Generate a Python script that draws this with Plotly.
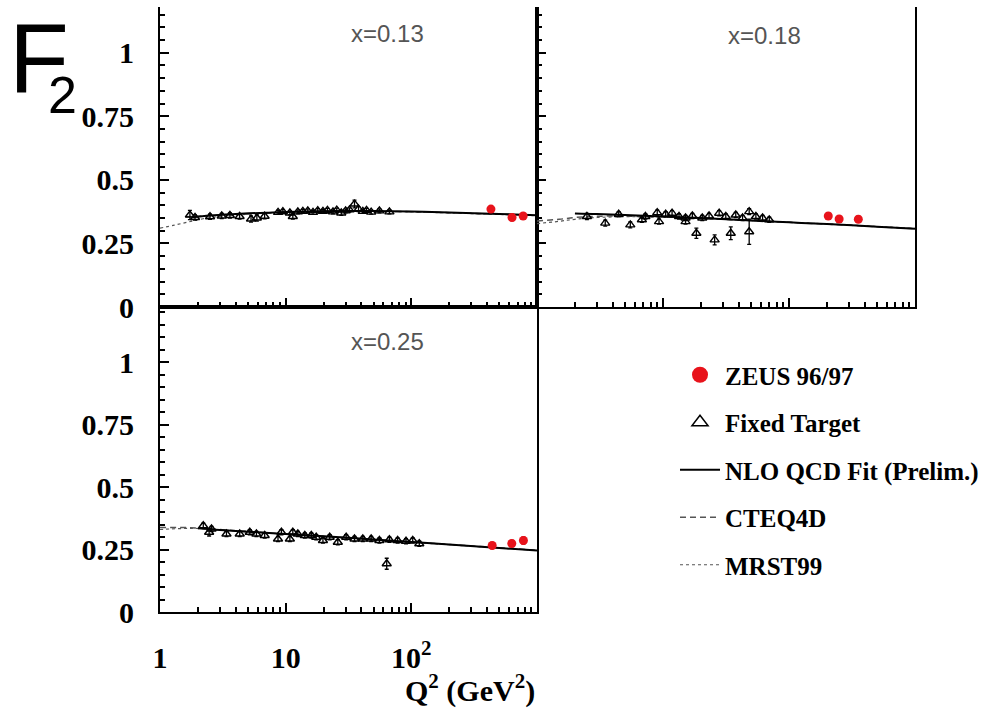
import plotly.graph_objects as go

W, H = 998, 708

# ---------------- data ----------------
# x = 0.13
q2_ft_013 = [1.73, 1.9, 2.5, 3.1, 3.6, 4.3, 5.3, 5.9, 6.8, 8.7, 9.5, 10.8, 11.4, 12.5, 13.7, 15.0,
             16.5, 18.0, 19.8, 21.5, 23.8, 25.5, 27.7, 30.0, 32.2, 35.3, 38.0, 41.1, 44.0, 47.9, 55.7, 66.9]
f2_ft_013 = [0.362, 0.352, 0.355, 0.358, 0.360, 0.356, 0.346, 0.350, 0.357, 0.372, 0.375, 0.370, 0.356,
             0.374, 0.376, 0.378, 0.372, 0.379, 0.376, 0.380, 0.374, 0.381, 0.370, 0.378, 0.382, 0.405,
             0.385, 0.376, 0.380, 0.373, 0.378, 0.374]
err_ft_013 = [0.018, 0.010, 0.010, 0.010, 0.010, 0.010, 0.012, 0.012, 0.010, 0.008, 0.008, 0.008, 0.010,
              0.008, 0.008, 0.008, 0.008, 0.008, 0.008, 0.008, 0.008, 0.008, 0.010, 0.008, 0.008, 0.015,
              0.010, 0.008, 0.008, 0.008, 0.008, 0.008]
q2_zeus_013 = [430, 633, 776]
f2_zeus_013 = [0.385, 0.352, 0.358]
err_zeus_013 = [0.012, 0.012, 0.012]

q2_nlo_013 = [1.8, 2.5, 4, 7, 10, 20, 50, 100, 200, 500, 1000]
f2_nlo_013 = [0.352, 0.360, 0.366, 0.371, 0.374, 0.377, 0.378, 0.376, 0.372, 0.366, 0.361]
q2_cteq_013 = [1.6, 2, 3, 5, 10, 20, 50, 100, 200, 500, 1000]
f2_cteq_013 = [0.355, 0.357, 0.361, 0.366, 0.372, 0.376, 0.377, 0.375, 0.371, 0.365, 0.360]
q2_mrst_013 = [1, 1.3, 1.7, 2.2, 3, 5, 10, 20, 50, 100, 200, 500, 1000]
f2_mrst_013 = [0.310, 0.322, 0.335, 0.347, 0.356, 0.365, 0.373, 0.377, 0.377, 0.374, 0.370, 0.364, 0.359]

# x = 0.18
q2_ft_018 = [2.49, 3.48, 4.45, 5.5, 6.8, 7.25, 9.0, 9.3, 10.5, 11.8, 13.4, 15.1, 15.1, 17.1, 18.4,
             20.5, 23.2, 25.7, 27.9, 31.5, 34.5, 37.8, 42.8, 48.3, 48.3, 54.6, 61.7, 69.7]
f2_ft_018 = [0.356, 0.330, 0.365, 0.323, 0.343, 0.356, 0.371, 0.336, 0.365, 0.369, 0.356, 0.350, 0.336,
             0.358, 0.290, 0.350, 0.358, 0.264, 0.369, 0.356, 0.290, 0.362, 0.350, 0.375, 0.296, 0.356,
             0.350, 0.343]
err_ft_018 = [0.012, 0.012, 0.010, 0.012, 0.010, 0.010, 0.010, 0.010, 0.010, 0.010, 0.010, 0.010, 0.010,
              0.010, 0.020, 0.010, 0.010, 0.020, 0.010, 0.010, 0.025, 0.010, 0.010, 0.012, 0.050, 0.010,
              0.010, 0.010]
q2_zeus_018 = [205, 250, 355]
f2_zeus_018 = [0.358, 0.346, 0.345]
err_zeus_018 = [0.012, 0.012, 0.012]

q2_nlo_018 = [2, 3, 5, 10, 20, 50, 100, 200, 500, 1000]
f2_nlo_018 = [0.368, 0.366, 0.362, 0.356, 0.350, 0.340, 0.333, 0.326, 0.316, 0.308]
q2_cteq_018 = [1, 1.5, 2, 3, 5, 10, 20, 50, 100, 200, 500, 1000]
f2_cteq_018 = [0.338, 0.345, 0.352, 0.357, 0.357, 0.354, 0.349, 0.340, 0.333, 0.326, 0.316, 0.308]
q2_mrst_018 = [1, 1.5, 2, 3, 5, 10, 20, 50, 100, 200, 500, 1000]
f2_mrst_018 = [0.328, 0.337, 0.345, 0.352, 0.355, 0.353, 0.348, 0.340, 0.333, 0.327, 0.317, 0.309]

# x = 0.25
q2_ft_025 = [2.21, 2.46, 2.57, 3.38, 4.31, 5.18, 5.85, 6.81, 8.69, 9.25, 10.8, 11.4, 12.5, 14.2, 16.0,
             17.5, 19.8, 22.4, 26.0, 30.3, 35.3, 41.1, 47.9, 55.7, 63.7, 66.9, 77.8, 90.7, 102.6, 115.7]
f2_ft_025 = [0.345, 0.319, 0.332, 0.312, 0.312, 0.319, 0.312, 0.306, 0.292, 0.319, 0.292, 0.319, 0.312,
             0.306, 0.306, 0.299, 0.286, 0.299, 0.279, 0.299, 0.292, 0.292, 0.292, 0.286, 0.193, 0.289,
             0.286, 0.283, 0.286, 0.273]
err_ft_025 = [0.010, 0.015, 0.010, 0.010, 0.010, 0.010, 0.010, 0.010, 0.010, 0.010, 0.010, 0.010, 0.010,
              0.010, 0.010, 0.010, 0.010, 0.010, 0.010, 0.010, 0.010, 0.010, 0.010, 0.010, 0.022, 0.010,
              0.010, 0.010, 0.010, 0.010]
q2_zeus_025 = [440, 630, 780]
f2_zeus_025 = [0.266, 0.274, 0.286]
err_zeus_025 = [0.012, 0.012, 0.014]

q2_nlo_025 = [2, 3, 5, 10, 20, 50, 100, 200, 500, 1000]
f2_nlo_025 = [0.335, 0.328, 0.321, 0.312, 0.303, 0.290, 0.280, 0.270, 0.256, 0.246]
q2_cteq_025 = [1, 1.5, 2, 3, 5, 10, 20, 50, 100, 200, 500, 1000]
f2_cteq_025 = [0.338, 0.338, 0.336, 0.330, 0.322, 0.312, 0.303, 0.290, 0.280, 0.270, 0.257, 0.247]
q2_mrst_025 = [1, 1.5, 2, 3, 5, 10, 20, 50, 100, 200, 500, 1000]
f2_mrst_025 = [0.330, 0.334, 0.334, 0.329, 0.321, 0.311, 0.302, 0.289, 0.279, 0.269, 0.256, 0.246]

panel_labels = ["x=0.13", "x=0.18", "x=0.25"]
legend_names = ["ZEUS 96/97", "Fixed Target", "NLO QCD Fit (Prelim.)", "CTEQ4D", "MRST99"]
y_tickvals = [0, 0.25, 0.5, 0.75, 1]
y_ticktext = ["0", "0.25", "0.5", "0.75", "1"]
x_tickvals = [1, 10, 100]
x_ticktext = ["1", "10", "10<sup>2</sup>"]
x_minor = [2, 3, 4, 5, 6, 7, 8, 9, 20, 30, 40, 50, 60, 70, 80, 90, 200, 300, 400, 500, 600, 700, 800, 900]

# ---------------- figure ----------------
def px(x):
    return x / W

def py(y):
    return 1 - y / H

fig = go.Figure()

panels = [
    ("x", "y", q2_ft_013, f2_ft_013, err_ft_013, q2_zeus_013, f2_zeus_013, err_zeus_013,
     q2_nlo_013, f2_nlo_013, q2_cteq_013, f2_cteq_013, q2_mrst_013, f2_mrst_013),
    ("x2", "y2", q2_ft_018, f2_ft_018, err_ft_018, q2_zeus_018, f2_zeus_018, err_zeus_018,
     q2_nlo_018, f2_nlo_018, q2_cteq_018, f2_cteq_018, q2_mrst_018, f2_mrst_018),
    ("x3", "y3", q2_ft_025, f2_ft_025, err_ft_025, q2_zeus_025, f2_zeus_025, err_zeus_025,
     q2_nlo_025, f2_nlo_025, q2_cteq_025, f2_cteq_025, q2_mrst_025, f2_mrst_025),
]

RED = "#e8131b"
MRST_LINE = dict(color="#555555", width=1.2, dash="dot", shape="spline")
CTEQ_LINE = dict(color="#555555", width=1.5, dash="6px,4px", shape="spline")
NLO_LINE = dict(color="black", width=2, shape="spline")

for (xa, ya, qft, fft, eft, qz, fz, ez, qn, fn, qc, fc, qm, fm) in panels:
    fig.add_trace(go.Scatter(x=qm, y=fm, mode="lines", xaxis=xa, yaxis=ya, line=MRST_LINE,
                             name=legend_names[4], showlegend=False))
    fig.add_trace(go.Scatter(x=qc, y=fc, mode="lines", xaxis=xa, yaxis=ya, line=CTEQ_LINE,
                             name=legend_names[3], showlegend=False))
    fig.add_trace(go.Scatter(x=qn, y=fn, mode="lines", xaxis=xa, yaxis=ya, line=NLO_LINE,
                             name=legend_names[2], showlegend=False))
    fig.add_trace(go.Scatter(x=qft, y=fft, mode="markers", xaxis=xa, yaxis=ya,
                             marker=dict(symbol="triangle-up-open", size=8, color="black",
                                         line=dict(width=1.4, color="black")),
                             error_y=dict(type="data", array=eft, color="black", thickness=1.3, width=2),
                             name=legend_names[1], showlegend=False))
    fig.add_trace(go.Scatter(x=qz, y=fz, mode="markers", xaxis=xa, yaxis=ya,
                             marker=dict(symbol="circle", size=9, color=RED, line=dict(width=0)),
                             error_y=dict(type="data", array=ez, color="#b00000", thickness=1.5, width=2),
                             name=legend_names[0], showlegend=False))

legend_specs = [
    dict(mode="markers", marker=dict(symbol="circle", size=16, color=RED, line=dict(width=0))),
    dict(mode="markers", marker=dict(symbol="triangle-up-open", size=14, color="black",
                                     line=dict(width=1.5, color="black"))),
    dict(mode="lines", line=NLO_LINE),
    dict(mode="lines", line=CTEQ_LINE),
    dict(mode="lines", line=MRST_LINE),
]
for k, (nm, spec) in enumerate(zip(legend_names, legend_specs)):
    fig.add_trace(go.Scatter(x=[None], y=[None], xaxis="x", yaxis="y", name=nm,
                             legendgroup=f"g{k}", legendrank=k + 1, showlegend=True, **spec))

tick_font = dict(family="Liberation Serif", size=30, color="black", weight="bold")

def xaxis_cfg(dom, labels, mirror):
    return dict(type="log", domain=dom, range=[0, 3], showline=True, linewidth=2, linecolor="black",
                mirror=mirror, ticks="inside", ticklen=9, tickwidth=1.5, tickcolor="black",
                tickmode="array", tickvals=x_tickvals, ticktext=x_ticktext, automargin=False,
                showticklabels=labels, tickfont=tick_font, ticklabelstandoff=18,
                minor=dict(tickmode="array", tickvals=x_minor, ticks="inside", ticklen=5,
                           tickwidth=1.5, tickcolor="black", showgrid=False),
                showgrid=False, zeroline=False)

def yaxis_cfg(dom, rng, labels):
    return dict(domain=dom, range=rng, showline=True, linewidth=2, linecolor="black", mirror=True,
                ticks="inside", ticklen=9, tickwidth=1.5, tickcolor="black", automargin=False,
                tickmode="array", tickvals=y_tickvals, ticktext=y_ticktext,
                showticklabels=labels, tickfont=tick_font, ticklabelstandoff=18,
                minor=dict(dtick=0.05, ticks="inside", ticklen=5, tickwidth=1.5,
                           tickcolor="black", showgrid=False),
                showgrid=False, zeroline=False)

top_dom = [py(307), py(7)]
bot_dom = [py(612), py(307)]
left_dom = [px(160), px(537)]
right_dom = [px(537), px(915)]

fig.update_layout(
    width=W, height=H,
    margin=dict(l=0, r=0, t=0, b=0, autoexpand=False),
    paper_bgcolor="white", plot_bgcolor="rgba(0,0,0,0)",
    xaxis=dict(xaxis_cfg(left_dom, False, False), anchor="y"),
    yaxis=dict(yaxis_cfg(top_dom, [0, 1.18], True), anchor="x"),
    xaxis2=dict(xaxis_cfg(right_dom, False, False), anchor="y2"),
    yaxis2=dict(yaxis_cfg(top_dom, [0, 1.18], False), anchor="x2"),
    xaxis3=dict(xaxis_cfg(left_dom, True, True), anchor="y3"),
    yaxis3=dict(yaxis_cfg(bot_dom, [0, 1.22], True), anchor="x3"),
    legend=dict(x=px(675), y=py(352), xanchor="left", yanchor="top",
                font=dict(family="Liberation Serif", size=25, color="black", weight="bold"),
                tracegroupgap=12, bgcolor="rgba(0,0,0,0)", itemsizing="trace",
                itemwidth=40, traceorder="grouped"),
    showlegend=True,
)

label_font = dict(family="Liberation Sans", size=24, color="#555555")
for (lx, ly), txt in zip([(387, 34), (764, 35), (387, 341)], panel_labels):
    fig.add_annotation(x=px(lx), y=py(ly), xref="paper", yref="paper", text=txt,
                       showarrow=False, font=label_font, xanchor="center", yanchor="middle")

# F with a tucked-in subscript 2, as one text
fig.add_annotation(x=px(7), y=py(1), xref="paper", yref="paper",
                   text="<span style='letter-spacing:-21px'>F</span>"
                        "<sub><span style='font-size:52px'>2</span></sub>",
                   showarrow=False, font=dict(family="Liberation Sans", size=98, color="black"),
                   xanchor="left", yanchor="top")
fig.add_annotation(x=px(537), y=py(688), xref="paper", yref="paper",
                   text="Q<sup>2</sup> (GeV<sup>2</sup>)", showarrow=False,
                   font=dict(family="Liberation Serif", size=30, color="black", weight="bold"),
                   xanchor="right", yanchor="middle")

fig.write_html("out.html", config={"displayModeBar": False},
               post_script="document.body.style.margin='0px';document.body.style.overflow='hidden';")
